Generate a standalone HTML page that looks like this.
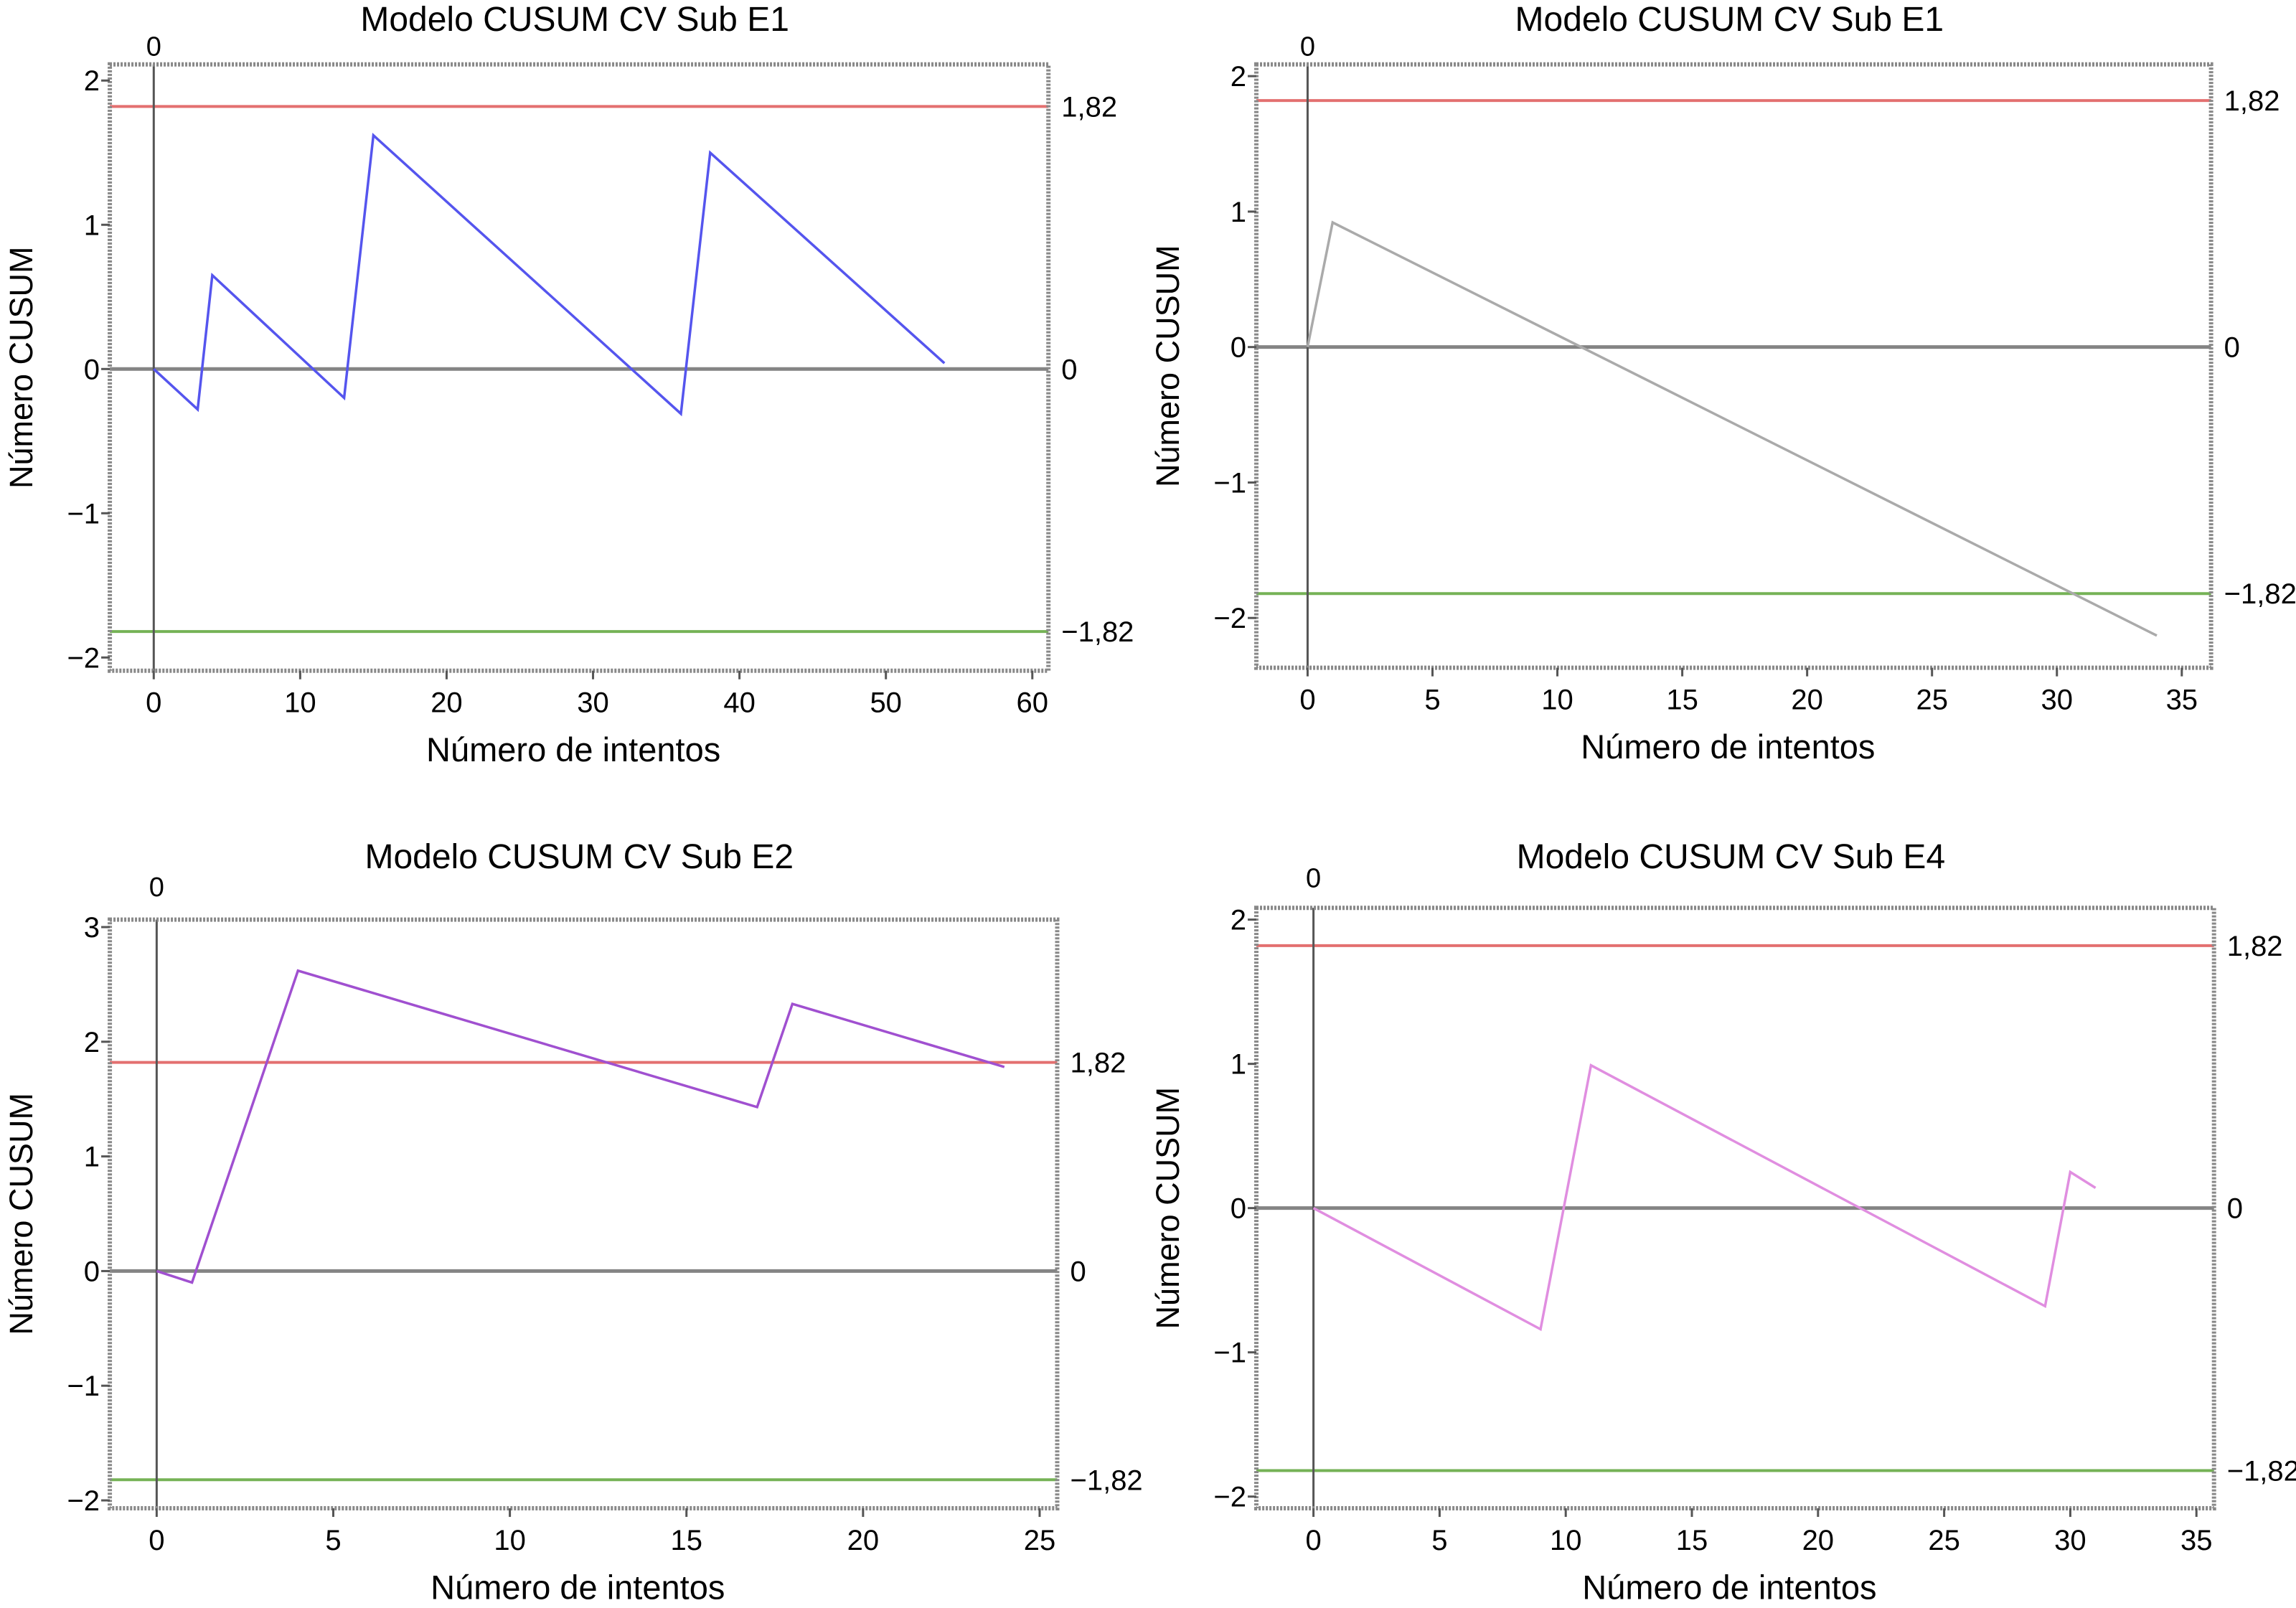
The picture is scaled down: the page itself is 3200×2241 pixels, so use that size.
<!DOCTYPE html>
<html><head><meta charset="utf-8">
<style>
html,body{margin:0;padding:0;background:#fff;}
svg{display:block;}
text{font-family:"Liberation Sans Narrow","Liberation Sans",sans-serif;fill:#000;}
.yt{font-family:"Liberation Sans",sans-serif;}
</style></head>
<body>
<svg id="chart" width="3200" height="2241" viewBox="0 0 3200 2241" xmlns="http://www.w3.org/2000/svg"></svg>
<script>
// ---- data ----
const p1X = [0, 3, 4, 13, 15, 36, 38, 54];
const p1Y = [0, -0.28, 0.65, -0.2, 1.62, -0.31, 1.5, 0.04];
const p2X = [0, 1, 34];
const p2Y = [0, 0.92, -2.13];
const p3X = [0, 1, 4, 17, 18, 24];
const p3Y = [0, -0.1, 2.62, 1.43, 2.33, 1.78];
const p4X = [0, 9, 11, 29, 30, 31];
const p4Y = [0, -0.84, 0.99, -0.68, 0.25, 0.14];
const xTicks1 = [0, 10, 20, 30, 40, 50, 60];
const xTicks2 = [0, 5, 10, 15, 20, 25, 30, 35];
const xTicks3 = [0, 5, 10, 15, 20, 25];
const xTicks4 = [0, 5, 10, 15, 20, 25, 30, 35];
const yTicks1 = [-2, -1, 0, 1, 2];
const yTicks3 = [-2, -1, 0, 1, 2, 3];
const limitValues = [1.82, 0, -1.82];
const limitLabels = ["1,82", "0", "\u22121,82"];
const titles = ["Modelo CUSUM CV Sub E1", "Modelo CUSUM CV Sub E1", "Modelo CUSUM CV Sub E2", "Modelo CUSUM CV Sub E4"];

const S = 3200/1568;
const NS = "http://www.w3.org/2000/svg";
const svg = document.getElementById('chart');
function el(tag, attrs, parent){
  const e = document.createElementNS(NS, tag);
  for (const k in attrs) e.setAttribute(k, attrs[k]);
  (parent||svg).appendChild(e);
  return e;
}
function fmt(v){ return v < 0 ? "\u2212" + Math.abs(v) : String(v); }

const panels = [
  {L:75,R:716,T:44,B:458, x0:105,x1:705,xv0:0,xv1:60, y0:252,yPer:98.5, xs:p1X, ys:p1Y, xt:xTicks1, yt:yTicks1, color:"#5555ee", ty:12, ly:30},
  {L:858,R:1510,T:44,B:456, x0:893,x1:1490,xv0:0,xv1:35, y0:237,yPer:92.5, xs:p2X, ys:p2Y, xt:xTicks2, yt:yTicks1, color:"#aaaaaa", ty:12, ly:30},
  {L:75,R:722,T:628,B:1030, x0:107,x1:710,xv0:0,xv1:25, y0:868,yPer:78.3, xs:p3X, ys:p3Y, xt:xTicks3, yt:yTicks3, color:"#a050d0", ty:584, ly:604},
  {L:858,R:1512,T:620,B:1030, x0:897,x1:1500,xv0:0,xv1:35, y0:825,yPer:98.5, xs:p4X, ys:p4Y, xt:xTicks4, yt:yTicks1, color:"#e08ee0", ty:584, ly:598}
];

panels.forEach((p, i) => {
  const g = el('g', {});
  
  
  const X = v => (p.x0 + (v - p.xv0) * (p.x1 - p.x0) / (p.xv1 - p.xv0)) * S;
  const Y = v => (p.y0 - v * p.yPer) * S;
  const L = p.L*S, R = p.R*S, T = p.T*S, B = p.B*S;
  const cx = (L+R)/2;

  const t = el('text', {x: cx - 6, y: (p.ty+9)*S, 'font-size': 48, 'text-anchor':'middle'}, g);
  t.textContent = titles[i];
  
  

  const z = el('text', {x: X(0), y: (p.ly+8)*S, 'font-size': 38, 'text-anchor':'middle'}, g);
  z.textContent = "0";
  
  

  const cols = ["#e06060", "#777777", "#66aa44"];
  limitValues.forEach((v, k) => {
    const ln = el('line', {x1:L, x2:R, y1:Y(v), y2:Y(v), stroke:cols[k], 'stroke-width': k==1?5:4, 'stroke-opacity':0.9}, g);
    
    
    const lb = el('text', {x: R + 18, y: Y(v) + 14, 'font-size': 40}, g);
    lb.textContent = limitLabels[k];
    
    
  });

  const vz = el('line', {x1:X(0), x2:X(0), y1:T, y2:B, stroke:"#555", 'stroke-width':3}, g);
  
  

  const fr = el('rect', {x:L, y:T, width:R-L, height:B-T, fill:'none', stroke:'#888', 'stroke-width':6, 'stroke-dasharray':'3 2'}, g);
  
  

  p.xt.forEach(v => {
    const tk = el('line', {x1:X(v), x2:X(v), y1:B, y2:B+12, stroke:'#555', 'stroke-width':3}, g);
    
    
    const tl = el('text', {x:X(v), y:B + 58, 'font-size':40, 'text-anchor':'middle'}, g);
    tl.textContent = fmt(v);
    
    
  });
  p.yt.forEach(v => {
    const tk = el('line', {x1:L-12, x2:L, y1:Y(v), y2:Y(v), stroke:'#555', 'stroke-width':3}, g);
    
    
    const tl = el('text', {x:L - 14, y:Y(v) + 14, 'font-size':40, 'text-anchor':'end'}, g);
    tl.textContent = fmt(v);
    
    
  });

  const xa = el('text', {x:cx - 8, y:(p.B+62)*S, 'font-size':47, 'text-anchor':'middle'}, g);
  xa.textContent = "Número de intentos";
  
  
  const yc = (T+B)/2, yx = (p.L-53)*S;
  const ya = el('text', {x:yx, y:yc, 'font-size':45, 'text-anchor':'middle', class:'yt', transform:'rotate(-90 '+yx+' '+yc+')'}, g);
  ya.textContent = "Número CUSUM";
  
  

  const pts = p.xs.map((v, k) => X(v).toFixed(1) + ',' + Y(p.ys[k]).toFixed(1)).join(' ');
  const pl = el('polyline', {points: pts, fill:'none', stroke:p.color, 'stroke-width':3.5}, g);
  
  
});
</script>
</body></html>
